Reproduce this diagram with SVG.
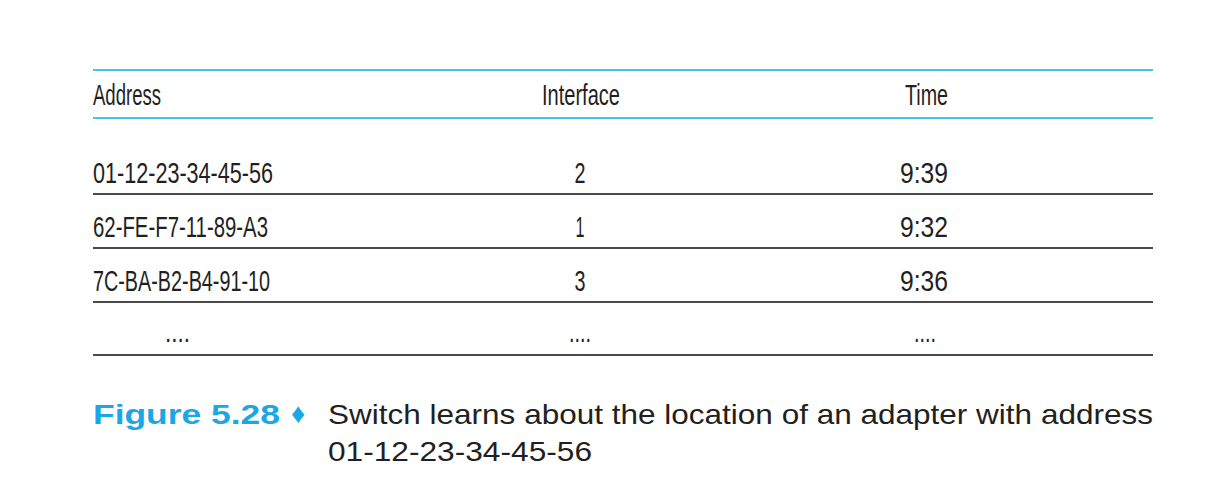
<svg xmlns="http://www.w3.org/2000/svg" width="1206" height="477" viewBox="0 0 1206 477">
<style>
.t{font-family:"Liberation Sans",Arial,sans-serif;font-size:30px;fill:#231f20}
.c{font-family:"Liberation Sans",Arial,sans-serif;font-size:28px;fill:#231f20}
.f{font-family:"Liberation Sans",Arial,sans-serif;font-size:28px;font-weight:bold;fill:#1aa7e3}
.bl{stroke:#45bff0;stroke-width:2}
.gl{stroke:#4a4a4a;stroke-width:2}
</style>
<rect width="1206" height="477" fill="#fff"/>
<g id="rules">
<line class="bl" x1="93" y1="70" x2="1153" y2="70"/>
<line class="bl" x1="93" y1="118" x2="1153" y2="118"/>
<line class="gl" x1="93" y1="194" x2="1153" y2="194"/>
<line class="gl" x1="93" y1="248" x2="1153" y2="248"/>
<line class="gl" x1="93" y1="302" x2="1153" y2="302"/>
<line class="gl" x1="93" y1="355" x2="1153" y2="355"/>
</g>
<g id="header">
<text class="t" x="93" y="105" textLength="68" lengthAdjust="spacingAndGlyphs">Address</text>
<text class="t" x="542" y="105" textLength="78" lengthAdjust="spacingAndGlyphs">Interface</text>
<text class="t" x="905" y="105" textLength="43" lengthAdjust="spacingAndGlyphs">Time</text>
</g>
<g id="row1">
<text class="t" x="93" y="183" textLength="180" lengthAdjust="spacingAndGlyphs">01-12-23-34-45-56</text>
<text class="t" x="580" y="183" text-anchor="middle" textLength="11" lengthAdjust="spacingAndGlyphs">2</text>
<text class="t" x="900" y="183" textLength="48" lengthAdjust="spacingAndGlyphs">9:39</text>
</g>
<g id="row2">
<text class="t" x="93" y="237" textLength="175" lengthAdjust="spacingAndGlyphs">62-FE-F7-11-89-A3</text>
<text class="t" x="580" y="237" text-anchor="middle" textLength="9" lengthAdjust="spacingAndGlyphs">1</text>
<text class="t" x="900" y="237" textLength="48" lengthAdjust="spacingAndGlyphs">9:32</text>
</g>
<g id="row3">
<text class="t" x="93" y="291" textLength="177" lengthAdjust="spacingAndGlyphs">7C-BA-B2-B4-91-10</text>
<text class="t" x="580" y="291" text-anchor="middle" textLength="11" lengthAdjust="spacingAndGlyphs">3</text>
<text class="t" x="900" y="291" textLength="48" lengthAdjust="spacingAndGlyphs">9:36</text>
</g>
<g id="row4">
<text class="t" x="165" y="342" textLength="25" lengthAdjust="spacingAndGlyphs">....</text>
<text class="t" x="569" y="342" textLength="22" lengthAdjust="spacingAndGlyphs">....</text>
<text class="t" x="914" y="342" textLength="22" lengthAdjust="spacingAndGlyphs">....</text>
</g>
<g id="caption">
<text class="f" x="93" y="424" textLength="187" lengthAdjust="spacingAndGlyphs">Figure 5.28</text>
<text class="f" x="291" y="423" font-size="22">♦</text>
<text class="c" x="328" y="424" textLength="825" lengthAdjust="spacingAndGlyphs">Switch learns about the location of an adapter with address</text>
<text class="c" x="328" y="461" textLength="264" lengthAdjust="spacingAndGlyphs">01-12-23-34-45-56</text>
</g>
</svg>
